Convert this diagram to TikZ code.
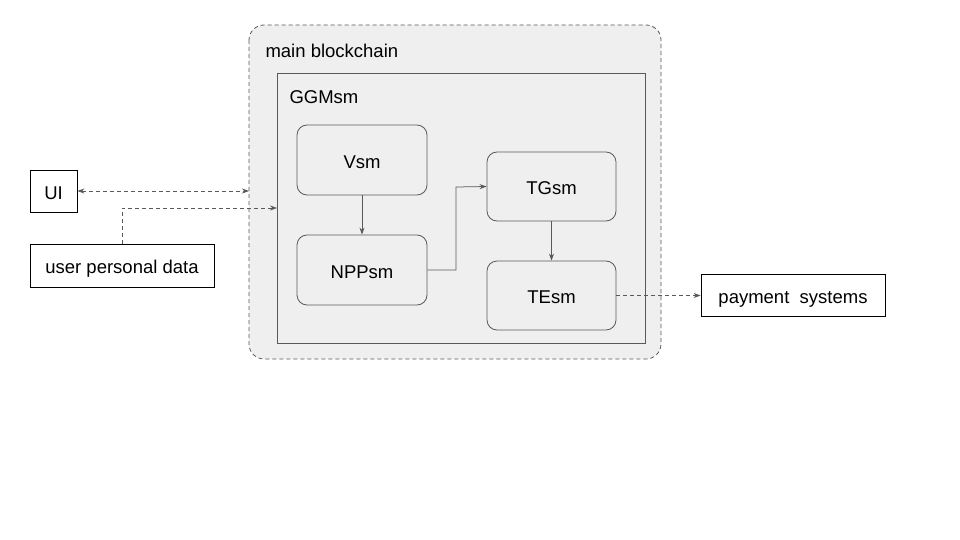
\documentclass[tikz,border=0pt]{standalone}
\usepackage{fontspec}
\setmainfont{Liberation Sans}
\usetikzlibrary{arrows.meta}
\definecolor{ln}{HTML}{595959}
\definecolor{bgc}{HTML}{EFEFEF}
\begin{document}
\begin{tikzpicture}[x=1pt,y=-1pt,
  txt/.style={font=\fontsize{18.5}{22}\selectfont, text=black},
  ctxt/.style={txt, text height=13.3pt+3pt, text depth=0pt},
  sq/.style={draw=black, line width=0.8pt, fill=white, ctxt, inner sep=0pt},
  sm/.style={draw=ln, line width=0.8pt, rounded corners=10pt, fill=bgc, ctxt, inner sep=0pt, minimum width=130pt, minimum height=70pt},
  conn/.style={draw=ln, line width=0.75pt, -{Stealth[length=7pt,width=5pt]}},
  dconn/.style={conn, dash pattern=on 4pt off 3pt}]
\useasboundingbox (0,0) rectangle (960,540);
\fill[white] (0,0) rectangle (960,540);
% main blockchain
\draw[draw=ln, line width=0.8pt, dash pattern=on 4pt off 3pt, fill=bgc, rounded corners=15pt] (249,25) rectangle (661,359);
\node[ctxt, anchor=west] (mb) at (262,49) {main blockchain};
\coordinate (mbL) at (249,191);
% GGMsm
\draw[draw=ln, line width=0.8pt, fill=bgc] (277,73) rectangle (645,343);
\node[ctxt, anchor=west] (gg) at (286,95) {GGMsm};
\coordinate (ggL) at (277,208);
% state machines
\node[sm] (vsm) at (362,160) {Vsm};
\node[sm] (npp) at (362,270) {NPPsm};
\node[sm, minimum width=129pt, minimum height=69pt] (tg) at (551.5,186.5) {TGsm};
\node[sm, minimum width=129pt, minimum height=69pt] (te) at (551.5,295.5) {TEsm};
% outer boxes
\node[sq, minimum width=47pt, minimum height=42pt] (ui) at (53.5,191) {UI};
\node[sq, minimum width=184pt, minimum height=43pt] (upd) at (122,265.5) {user personal data};
\node[sq, minimum width=184pt, minimum height=42pt] (pay) at (793,295) {payment\ \ systems};
% connectors
\draw[dconn, {Stealth[length=7pt,width=5pt]}-{Stealth[length=7pt,width=5pt]}] (ui.east) -- (mbL);
\draw[dconn] (upd.north) -- (122,208) -- (ggL);
\draw[conn] (vsm.south) -- (npp.north);
\draw[conn] (npp.east) -- (456,270) -- (456,187) -- (tg.west);
\draw[conn] (tg.south) -- (te.north);
\draw[dconn] (te.east) -- (pay.west |- te.east);
\end{tikzpicture}
\end{document}
